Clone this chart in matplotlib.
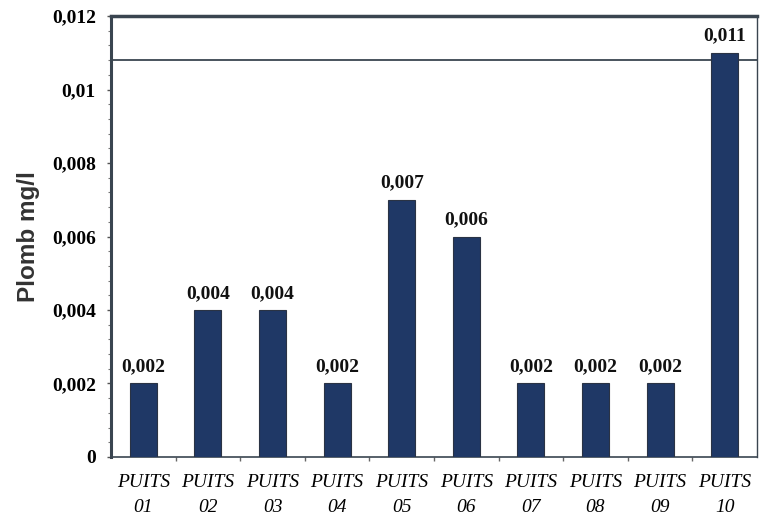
import matplotlib
matplotlib.use("Agg")
import matplotlib.pyplot as plt
from matplotlib.ticker import MultipleLocator, FixedLocator, NullFormatter

wells = ["PUITS\n01", "PUITS\n02", "PUITS\n03", "PUITS\n04", "PUITS\n05",
         "PUITS\n06", "PUITS\n07", "PUITS\n08", "PUITS\n09", "PUITS\n10"]
lead = [0.002, 0.004, 0.004, 0.002, 0.007, 0.006, 0.002, 0.002, 0.002, 0.011]
value_labels = ["0,002", "0,004", "0,004", "0,002", "0,007",
                "0,006", "0,002", "0,002", "0,002", "0,011"]
yticks = [0, 0.002, 0.004, 0.006, 0.008, 0.01, 0.012]
ytick_labels = ["0", "0,002", "0,004", "0,006", "0,008", "0,01", "0,012"]
limit = 0.0108

serif = ["Liberation Serif", "DejaVu Serif"]

fig = plt.figure(figsize=(7.61, 5.18), dpi=100)
ax = fig.add_axes([0.1459, 0.1178, 0.8488, 0.8512])

x = list(range(len(wells)))
ax.bar(x, lead, width=0.42, color="#1f3866", edgecolor="#2a3344", linewidth=0.8, zorder=3)

for xi, v, lab in zip(x, lead, value_labels):
    ax.text(xi, v + 0.00022, lab, ha="center", va="bottom", fontsize=14,
            fontweight="bold", family=serif, color="#111111")

ax.axhline(limit, color="#3a4550", linewidth=1.3, zorder=2)

ax.set_xlim(-0.5, len(wells) - 0.5)
ax.set_ylim(0, 0.012)
ax.set_yticks(yticks)
ax.set_yticklabels(ytick_labels, fontsize=14, fontweight="bold", family=serif)
ax.yaxis.set_minor_locator(MultipleLocator(0.0004))
ax.tick_params(axis="y", which="major", length=3, width=1, color="#555555", pad=8)
ax.tick_params(axis="y", which="minor", length=2, width=0.8, color="#777777")

ax.set_xticks(x)
ax.set_xticklabels(wells, fontsize=14, fontstyle="italic", family=serif,
                   linespacing=1.65)
ax.tick_params(axis="x", which="major", length=0, pad=12)
ax.xaxis.set_minor_locator(FixedLocator([i + 0.5 for i in range(len(wells) - 1)]))
ax.xaxis.set_minor_formatter(NullFormatter())
ax.tick_params(axis="x", which="minor", length=3, width=1, color="#666666")

ax.set_ylabel("Plomb mg/l", fontsize=17.5, fontweight="bold",
              family=["Liberation Sans", "DejaVu Sans"], color="#333333")
ax.yaxis.set_label_coords(-0.110, 0.5)

ax.spines["left"].set_linewidth(2.2)
ax.spines["left"].set_color("#3a4550")
ax.spines["top"].set_linewidth(2.5)
ax.spines["top"].set_color("#3a4550")
ax.spines["bottom"].set_linewidth(1.2)
ax.spines["bottom"].set_color("#3a4550")
ax.spines["right"].set_linewidth(1.0)
ax.spines["right"].set_color("#3a4550")

fig.savefig("out.png", dpi=100)
